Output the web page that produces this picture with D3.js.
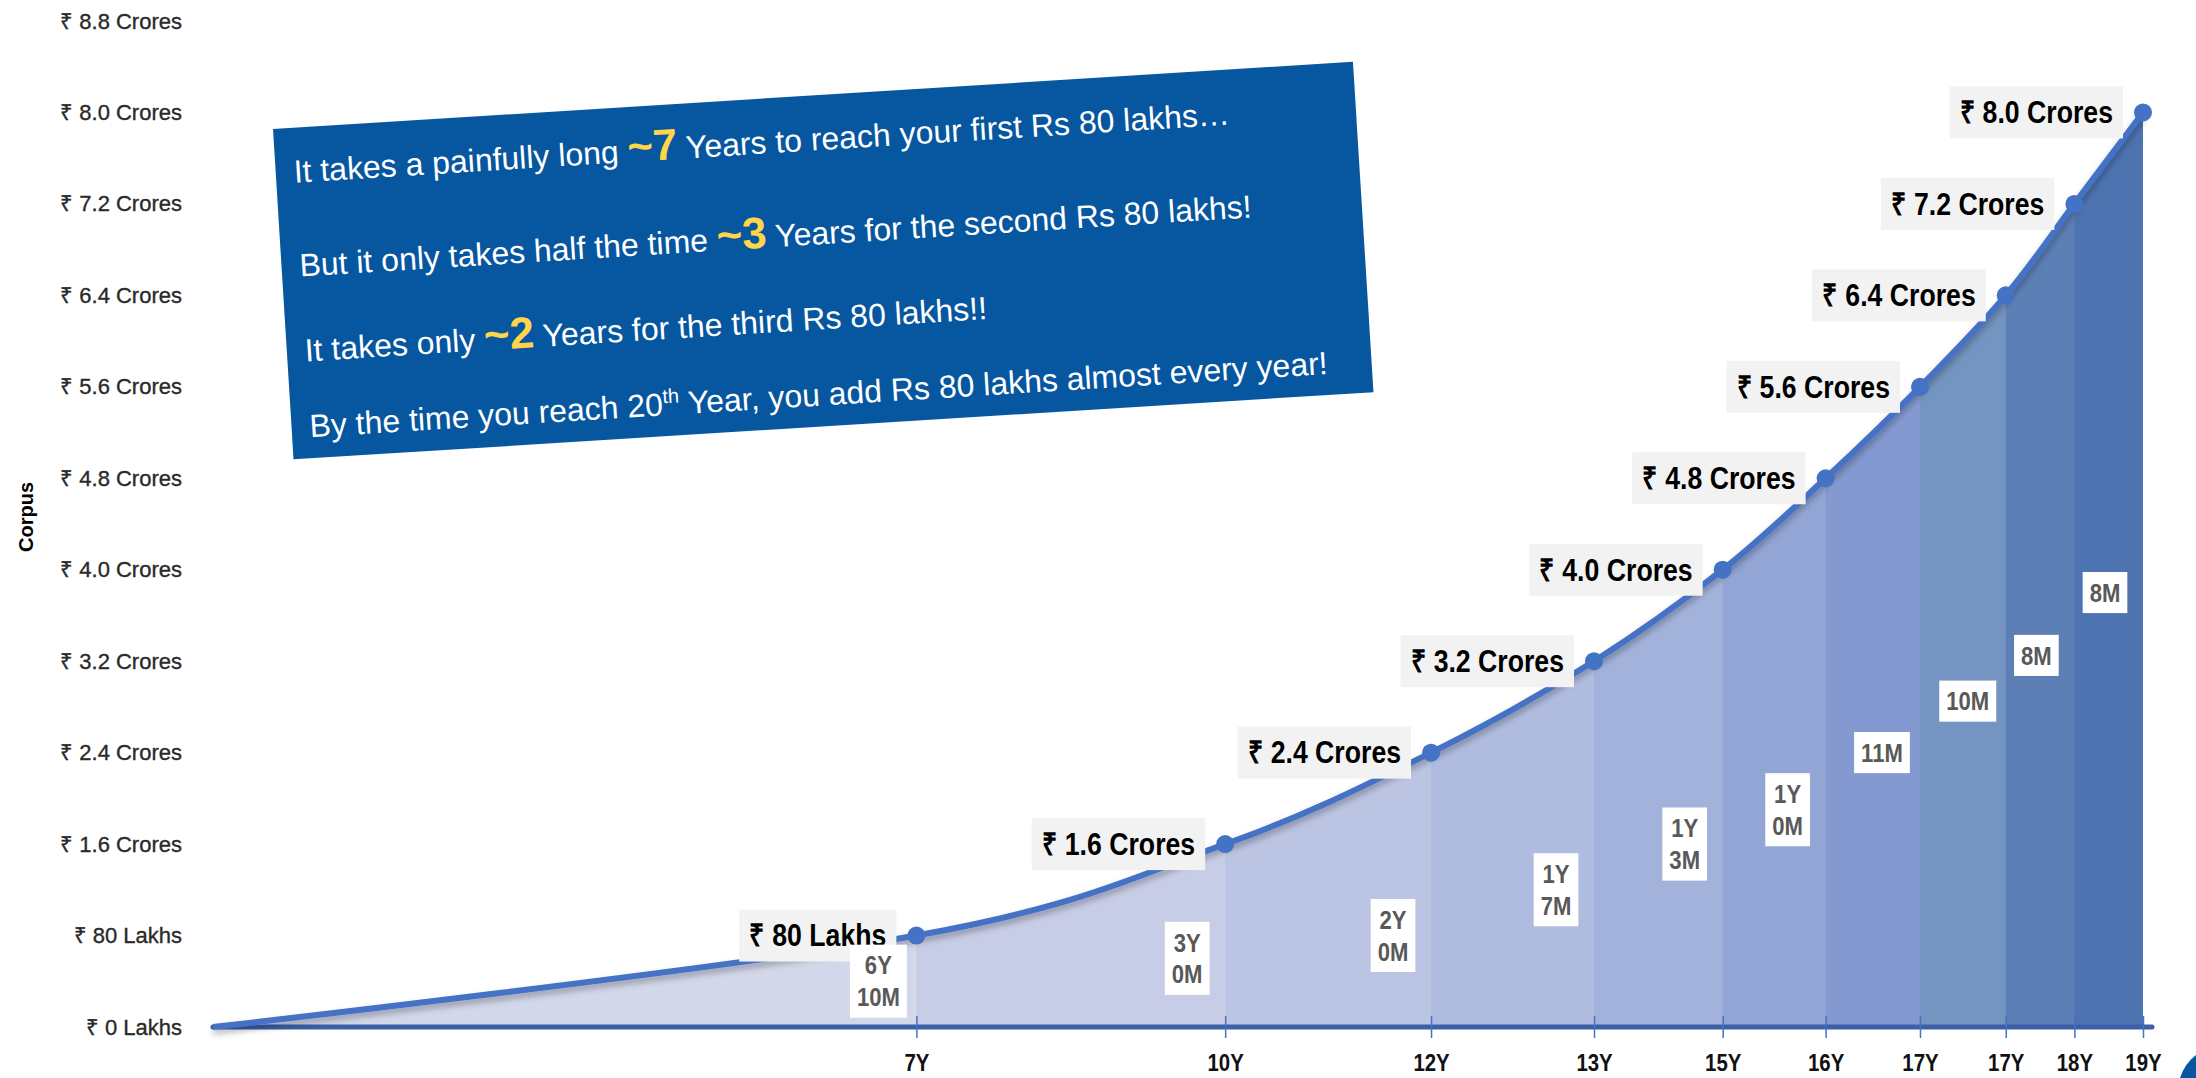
<!DOCTYPE html>
<meta charset="utf-8">
<html>
<head>
<script src="https://d3js.org/d3.v7.min.js"></script>
<style>
  body { margin: 0; background: #fff; }
</style>
</head>
<body>
<script>
// corpus milestones (crores) and months taken to add each step
var corpus = [0, 0.8, 1.6, 2.4, 3.2, 4.0, 4.8, 5.6, 6.4, 7.2, 8.0];
var monthsTaken = [82, 36, 24, 19, 15, 12, 11, 10, 8, 8];
var milestoneLabels = ["₹ 80 Lakhs", "₹ 1.6 Crores", "₹ 2.4 Crores", "₹ 3.2 Crores", "₹ 4.0 Crores",
  "₹ 4.8 Crores", "₹ 5.6 Crores", "₹ 6.4 Crores", "₹ 7.2 Crores", "₹ 8.0 Crores"];
var durationLabels = [["6Y", "10M"], ["3Y", "0M"], ["2Y", "0M"], ["1Y", "7M"], ["1Y", "3M"],
  ["1Y", "0M"], ["11M"], ["10M"], ["8M"], ["8M"]];
// height (in crores) where each duration label sits
var durationLevel = [0.4, 0.6, 0.8, 1.2, 1.6, 1.9, 2.4, 2.85, 3.25, 3.8];
var xTickLabels = ["7Y", "10Y", "12Y", "13Y", "15Y", "16Y", "17Y", "17Y", "18Y", "19Y"];
var yTickValues = [0, 0.8, 1.6, 2.4, 3.2, 4.0, 4.8, 5.6, 6.4, 7.2, 8.0, 8.8];
var yTickLabels = ["₹ 0 Lakhs", "₹ 80 Lakhs", "₹ 1.6 Crores", "₹ 2.4 Crores", "₹ 3.2 Crores", "₹ 4.0 Crores",
  "₹ 4.8 Crores", "₹ 5.6 Crores", "₹ 6.4 Crores", "₹ 7.2 Crores", "₹ 8.0 Crores", "₹ 8.8 Crores"];

var width = 2196, height = 1078;
var bandColors = ["#d2d7ea", "#c8cde7", "#bbc4e2", "#b0bcdf", "#a3b2db",
  "#92a5d5", "#8399d0", "#7495c1", "#5c7fb6", "#4d73b0"];
var sans = "'Liberation Sans', Arial, sans-serif";

// cumulative months at each milestone
var months = [0];
monthsTaken.forEach(function (m, i) { months.push(months[i] + m); });
var pts = corpus.map(function (c, i) { return { m: months[i], v: c }; });

var x = d3.scaleLinear().domain([0, d3.max(months)]).range([213, 2143]);
var y = d3.scaleLinear().domain([0, 8.8]).range([1027, 21]);

var svg = d3.select("body").append("svg")
  .attr("width", width)
  .attr("height", height);

var defs = svg.append("defs");
var f = defs.append("filter").attr("id", "shadow")
  .attr("x", "-5%").attr("y", "-10%").attr("width", "110%").attr("height", "130%");
f.append("feDropShadow").attr("dx", 0).attr("dy", 4).attr("stdDeviation", 3)
  .attr("flood-color", "#000").attr("flood-opacity", 0.3);

// coloured bands under the curve, one per step
var area = d3.area()
  .x(function (d) { return x(d.m); })
  .y0(y(0))
  .y1(function (d) { return y(d.v); })
  .curve(d3.curveCardinal.tension(0));

monthsTaken.forEach(function (m, i) {
  defs.append("clipPath").attr("id", "band" + i)
    .append("rect")
    .attr("x", x(months[i]))
    .attr("y", 0)
    .attr("width", x(months[i + 1]) - x(months[i]) + 0.6)
    .attr("height", height);
  svg.append("path")
    .datum(pts)
    .attr("d", area)
    .attr("fill", bandColors[i])
    .attr("clip-path", "url(#band" + i + ")");
});

// y axis labels
var yAxis = d3.axisLeft(y)
  .tickValues(yTickValues)
  .tickSize(0)
  .tickPadding(0)
  .tickFormat(function (d, i) { return yTickLabels[i]; });

var gy = svg.append("g").attr("transform", "translate(182,0)").call(yAxis);
gy.select(".domain").remove();
gy.selectAll("text")
  .attr("x", 0)
  .style("font-family", sans)
  .style("font-size", "22px")
  .style("fill", "#2a2a2a")
  .style("stroke", "#2a2a2a")
  .style("stroke-width", "0.35px");

svg.append("text")
  .attr("transform", "translate(26,517) rotate(-90)")
  .attr("text-anchor", "middle")
  .attr("dy", "0.35em")
  .style("font-family", sans)
  .style("font-weight", "bold")
  .style("font-size", "20px")
  .text("Corpus");

// x axis
svg.append("line")
  .attr("x1", x(0)).attr("x2", x.range()[1] + 9)
  .attr("y1", y(0)).attr("y2", y(0))
  .attr("stroke", "#3b5fa9")
  .attr("stroke-width", 5)
  .attr("stroke-linecap", "round");

var xAxis = d3.axisBottom(x)
  .tickValues(months.slice(1))
  .tickSize(11)
  .tickFormat(function (d, i) { return xTickLabels[i]; });

var gx = svg.append("g").attr("transform", "translate(0," + y(0) + ")").call(xAxis);
gx.select(".domain").remove();
gx.selectAll(".tick line")
  .attr("y1", -11)
  .attr("stroke", "#4472c4")
  .attr("stroke-width", 1.5);
gx.selectAll(".tick text")
  .attr("y", 0)
  .attr("dy", "0.35em")
  .attr("transform", "translate(0,36) scale(0.85,1)")
  .style("font-family", sans)
  .style("font-weight", "bold")
  .style("font-size", "24px")
  .style("fill", "#111");

// the curve and its points
var line = d3.line()
  .x(function (d) { return x(d.m); })
  .y(function (d) { return y(d.v); })
  .curve(d3.curveCardinal.tension(0));

svg.append("path")
  .datum(pts)
  .attr("d", line)
  .attr("fill", "none")
  .attr("stroke", "#4472c4")
  .attr("stroke-width", 6)
  .attr("filter", "url(#shadow)");

svg.selectAll("circle.pt")
  .data(pts.slice(1))
  .enter().append("circle")
  .attr("class", "pt")
  .attr("cx", function (d) { return x(d.m); })
  .attr("cy", function (d) { return y(d.v); })
  .attr("r", 9)
  .attr("fill", "#4472c4");

// milestone value labels
var sq = 0.86;
pts.slice(1).forEach(function (d, i) {
  var g = svg.append("g")
    .attr("transform", "translate(" + (x(d.m) - 20) + "," + y(d.v) + ")");
  var rect = g.append("rect").attr("fill", "#f2f2f2");
  var t = g.append("text")
    .attr("dy", "0.35em")
    .attr("text-anchor", "end")
    .attr("transform", "translate(-10,0) scale(" + sq + ",1)")
    .style("font-family", sans)
    .style("font-weight", "bold")
    .style("font-size", "31px")
    .style("fill", "#000")
    .text(milestoneLabels[i]);
  var w = t.node().getBBox().width * sq;
  rect.attr("x", -w - 20).attr("y", -26)
    .attr("width", w + 20).attr("height", 52);
});

// duration labels in white boxes
var sd = 0.85;
durationLabels.forEach(function (lines, i) {
  var g = svg.append("g")
    .attr("transform", "translate(" + (x(months[i + 1]) - 38) + "," + y(durationLevel[i]) + ")");
  var rect = g.append("rect").attr("fill", "#fff");
  var t = g.append("text")
    .attr("text-anchor", "middle")
    .attr("transform", "scale(" + sd + ",1)")
    .style("font-family", sans)
    .style("font-weight", "bold")
    .style("font-size", "26px")
    .style("fill", "#595959");
  lines.forEach(function (s, k) {
    t.append("tspan")
      .attr("x", 0)
      .attr("y", (k - (lines.length - 1) / 2) * 32)
      .attr("dy", "0.35em")
      .text(s);
  });
  var bb = t.node().getBBox();
  var w = bb.width * sd;
  rect.attr("x", -w / 2 - 7).attr("y", bb.y - 6)
    .attr("width", w + 14).attr("height", bb.height + 12);
});

// annotation box
var note = svg.append("g").attr("transform", "translate(273,129) rotate(-3.56)");
note.append("rect")
  .attr("width", 1082).attr("height", 331)
  .attr("fill", "#0656a0");

var noteLines = [
  { y: 55, parts: [["It takes a painfully long "], ["~7", "hi"], [" Years to reach your first Rs 80 lakhs…"]] },
  { y: 149, parts: [["But it only takes half the time "], ["~3", "hi"], [" Years for the second Rs 80 lakhs!"]] },
  { y: 234, parts: [["It takes only "], ["~2", "hi"], [" Years for the third Rs 80 lakhs!!"]] },
  { y: 310, parts: [["By the time you reach 20"], ["th", "sup"], [" Year, you add Rs 80 lakhs almost every year!"]] }
];

noteLines.forEach(function (ln) {
  var t = note.append("text")
    .attr("x", 18).attr("y", ln.y)
    .style("font-family", sans)
    .style("font-size", "32px")
    .style("fill", "#fff");
  var shifted = false;
  ln.parts.forEach(function (p) {
    var ts = t.append("tspan").text(p[0]);
    if (p[1] === "hi") {
      ts.style("font-weight", "bold").style("font-size", "44px").style("fill", "#ffd54a");
    } else if (p[1] === "sup") {
      ts.attr("dy", -12).style("font-size", "20px");
      shifted = true;
    } else if (shifted) {
      ts.attr("dy", 12);
      shifted = false;
    }
  });
});

// corner mark bottom right
svg.append("path")
  .attr("d", "M2180,1078 Q2185,1063 2196,1055 L2196,1078 Z")
  .attr("fill", "#0656a3");
</script>
</body>
</html>
